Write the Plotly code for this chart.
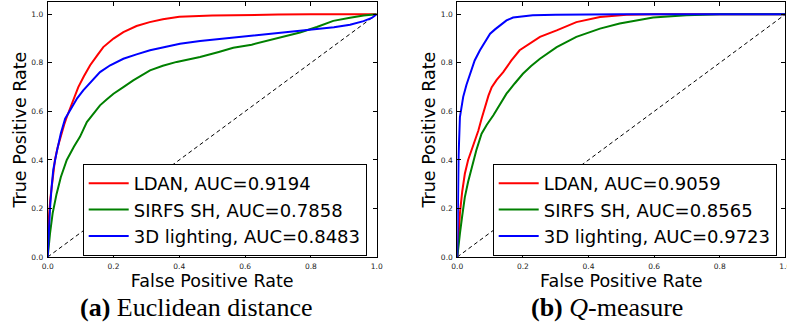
import plotly.graph_objects as go

# ---------------- data ----------------
tick_vals = [0.0, 0.2, 0.4, 0.6, 0.8, 1.0]
chance_x = [0.0, 1.0]
chance_y = [0.0, 1.0]

legend_names_a = ["LDAN, AUC=0.9194", "SIRFS SH, AUC=0.7858", "3D lighting, AUC=0.8483"]
legend_names_b = ["LDAN, AUC=0.9059", "SIRFS SH, AUC=0.8565", "3D lighting, AUC=0.9723"]

# (a) Euclidean distance
fpr_a_ldan = [0, 0.003, 0.008, 0.015, 0.022, 0.03, 0.04, 0.05, 0.058, 0.07, 0.08, 0.093, 0.11,
              0.129, 0.15, 0.169, 0.2, 0.23, 0.27, 0.31, 0.35, 0.4, 0.5, 0.6, 0.7, 0.8, 0.9, 1.0]
tpr_a_ldan = [0, 0.15, 0.24, 0.33, 0.40, 0.45, 0.50, 0.545, 0.577, 0.62, 0.655, 0.70, 0.745,
              0.79, 0.83, 0.865, 0.90, 0.927, 0.952, 0.968, 0.98, 0.99, 0.995, 0.998, 0.999, 1.0, 1.0, 1.0]

fpr_a_sirfs = [0, 0.003, 0.007, 0.015, 0.027, 0.04, 0.058, 0.08, 0.098, 0.119, 0.14, 0.159, 0.18,
               0.2, 0.23, 0.26, 0.311, 0.35, 0.392, 0.463, 0.52, 0.564, 0.62, 0.666, 0.72, 0.767,
               0.818, 0.868, 0.919, 0.96, 1.0]
tpr_a_sirfs = [0, 0.05, 0.096, 0.18, 0.26, 0.33, 0.40, 0.455, 0.495, 0.556, 0.59, 0.625, 0.65,
               0.673, 0.70, 0.728, 0.769, 0.788, 0.804, 0.824, 0.845, 0.862, 0.875, 0.89, 0.908, 0.925,
               0.948, 0.973, 0.986, 0.995, 1.0]

fpr_a_3d = [0, 0.003, 0.007, 0.012, 0.017, 0.027, 0.04, 0.053, 0.07, 0.09, 0.108, 0.13, 0.159,
            0.19, 0.23, 0.27, 0.311, 0.36, 0.402, 0.463, 0.564, 0.666, 0.767, 0.818, 0.87, 0.919,
            0.96, 0.985, 1.0]
tpr_a_3d = [0, 0.12, 0.2, 0.29, 0.36, 0.43, 0.51, 0.57, 0.61, 0.655, 0.687, 0.72, 0.762,
            0.79, 0.817, 0.835, 0.852, 0.866, 0.879, 0.89, 0.905, 0.92, 0.933, 0.94, 0.947, 0.957,
            0.972, 0.985, 1.0]

# (b) Q-measure
fpr_b_ldan = [0, 0.003, 0.008, 0.015, 0.023, 0.033, 0.044, 0.054, 0.064, 0.074, 0.084, 0.095,
              0.105, 0.12, 0.14, 0.165, 0.19, 0.22, 0.252, 0.303, 0.363, 0.435, 0.516, 0.6, 1.0]
tpr_b_ldan = [0, 0.09, 0.18, 0.27, 0.343, 0.40, 0.44, 0.48, 0.52, 0.57, 0.618, 0.665,
              0.70, 0.73, 0.762, 0.81, 0.852, 0.88, 0.907, 0.934, 0.968, 0.989, 0.998, 1.0, 1.0]

fpr_b_sirfs = [0, 0.003, 0.008, 0.015, 0.023, 0.033, 0.044, 0.058, 0.074, 0.09, 0.11, 0.13, 0.15,
               0.175, 0.2, 0.225, 0.252, 0.303, 0.363, 0.435, 0.495, 0.597, 0.698, 0.8, 1.0]
tpr_b_sirfs = [0, 0.05, 0.096, 0.17, 0.247, 0.31, 0.371, 0.44, 0.508, 0.545, 0.584, 0.63, 0.673,
               0.715, 0.755, 0.787, 0.817, 0.865, 0.907, 0.941, 0.962, 0.987, 0.996, 1.0, 1.0]

fpr_b_3d = [0, 0.002, 0.004, 0.008, 0.018, 0.028, 0.039, 0.053, 0.069, 0.085, 0.1, 0.115, 0.13,
            0.15, 0.17, 0.2, 0.23, 0.3, 0.4, 0.5, 1.0]
tpr_b_3d = [0, 0.25, 0.42, 0.577, 0.66, 0.71, 0.755, 0.81, 0.852, 0.89, 0.92, 0.938, 0.955,
            0.975, 0.987, 0.992, 0.996, 0.998, 0.999, 1.0, 1.0]

colors = ["#ff0000", "#008000", "#0000ff"]

# ---------------- figure ----------------
W, H = 787, 324
fig = go.Figure()

panels = [
    ("x", "y", "legend", legend_names_a,
     [(fpr_a_ldan, tpr_a_ldan), (fpr_a_sirfs, tpr_a_sirfs), (fpr_a_3d, tpr_a_3d)]),
    ("x2", "y2", "legend2", legend_names_b,
     [(fpr_b_ldan, tpr_b_ldan), (fpr_b_sirfs, tpr_b_sirfs), (fpr_b_3d, tpr_b_3d)]),
]

for xa, ya, leg, names, curves in panels:
    fig.add_trace(go.Scatter(x=chance_x, y=chance_y, mode="lines", xaxis=xa, yaxis=ya,
                             line=dict(color="black", width=1, dash="4px,3px"),
                             showlegend=False, hoverinfo="skip"))
    for (fx, ty), name, col in zip(curves, names, colors):
        fig.add_trace(go.Scatter(x=fx, y=ty, mode="lines", name=name, xaxis=xa, yaxis=ya,
                                 legend=leg, line=dict(color=col, width=2)))

tick_font = dict(family="DejaVu Sans", size=7.5, color="#222222")
title_font = dict(family="DejaVu Sans", size=17.5, color="black")

common_axis = dict(showline=True, linecolor="black", linewidth=1, mirror="ticks",
                   ticks="inside", ticklen=4, tickwidth=1, tickcolor="black",
                   showgrid=False, zeroline=False, tickvals=tick_vals, tickformat=".1f",
                   tickfont=tick_font, automargin=False, ticklabelstandoff=2,
                   ticklabeloverflow="allow")

y_dom = [(H - 257) / H, (H - 2.2) / H]
legend_style = dict(xanchor="left", yanchor="top", bgcolor="white", bordercolor="black",
                    borderwidth=1, font=dict(family="DejaVu Sans", size=18, color="black"),
                    itemwidth=40, tracegroupgap=0)

fig.update_layout(
    width=W, height=H,
    margin=dict(l=0, r=0, t=0, b=0),
    paper_bgcolor="white", plot_bgcolor="white",
    showlegend=True,
    xaxis=dict(domain=[47.7 / W, 376.7 / W], range=[0, 1], anchor="y",
               title=dict(text="False Positive Rate", font=title_font, standoff=4),
               **common_axis),
    yaxis=dict(domain=y_dom, range=[0, 1.05], anchor="x",
               title=dict(text="True Positive Rate", font=title_font, standoff=0),
               **common_axis),
    xaxis2=dict(domain=[457.3 / W, 785.3 / W], range=[0, 1], anchor="y2",
                title=dict(text="False Positive Rate", font=title_font, standoff=4),
                **common_axis),
    yaxis2=dict(domain=y_dom, range=[0, 1.05], anchor="x2",
                title=dict(text="True Positive Rate", font=title_font, standoff=0),
                **common_axis),
    legend=dict(x=82.7 / W, y=1 - 164 / H, **legend_style),
    legend2=dict(x=492.7 / W, y=1 - 164 / H, **legend_style),
    annotations=[
        dict(text="<b>(a)</b> Euclidean distance", x=195.5 / W, y=1 - 307 / H,
             xref="paper", yref="paper", xanchor="center", yanchor="middle", showarrow=False,
             font=dict(family="Liberation Serif", size=26, color="black")),
        dict(text="<b>(b)</b> <i>Q</i>-measure", x=606.5 / W, y=1 - 307 / H,
             xref="paper", yref="paper", xanchor="center", yanchor="middle", showarrow=False,
             font=dict(family="Liberation Serif", size=26, color="black")),
    ],
)

fig.write_html("out.html", config={"displayModeBar": False},
               post_script="document.body.style.margin='0';document.body.style.overflow='hidden';")
